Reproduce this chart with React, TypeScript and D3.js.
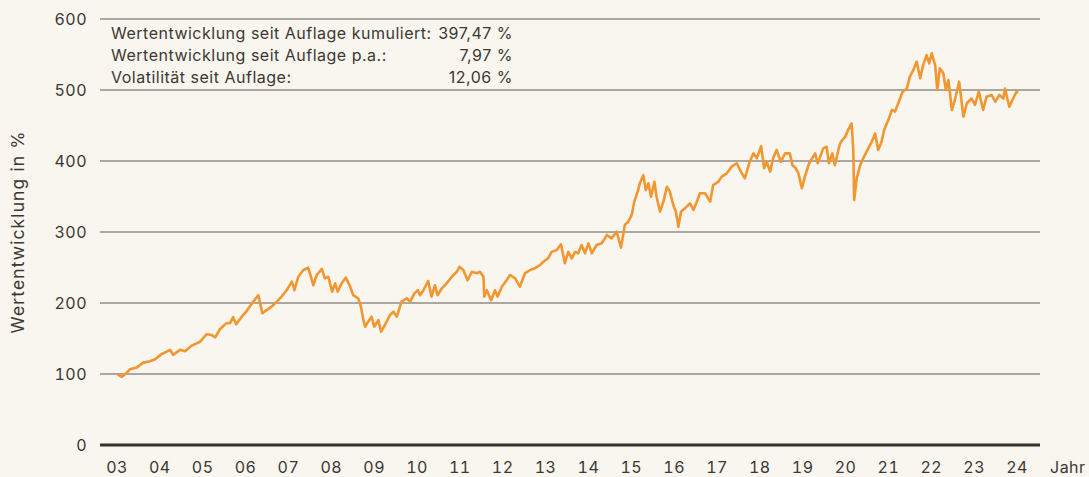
import React, { useEffect, useRef } from "react";
import * as d3 from "d3";

// decimal years
const years = [
  2003.0, 2003.11, 2003.19, 2003.3, 2003.46, 2003.61, 2003.77, 2003.89,
  2004.04, 2004.24, 2004.31, 2004.47, 2004.59, 2004.74, 2004.94,
  2005.09, 2005.21, 2005.29, 2005.4, 2005.54, 2005.64, 2005.71, 2005.78, 2005.91,
  2006.03, 2006.18, 2006.3, 2006.39, 2006.49, 2006.61, 2006.73, 2006.84, 2006.96,
  2007.08, 2007.14, 2007.23, 2007.35, 2007.46, 2007.5, 2007.58, 2007.66, 2007.78, 2007.85, 2007.93,
  2008.02, 2008.09, 2008.15, 2008.24, 2008.34, 2008.44, 2008.51, 2008.63, 2008.69, 2008.75, 2008.79, 2008.86, 2008.94,
  2009.0, 2009.1, 2009.16, 2009.25, 2009.37, 2009.45, 2009.53, 2009.64, 2009.76, 2009.84, 2009.94,
  2010.02, 2010.07, 2010.15, 2010.26, 2010.34, 2010.42, 2010.48, 2010.58, 2010.69, 2010.81, 2010.93, 2010.99,
  2011.08, 2011.18, 2011.28, 2011.39, 2011.47, 2011.55, 2011.57, 2011.63, 2011.73, 2011.82, 2011.88, 2011.98,
  2012.09, 2012.17, 2012.29, 2012.4, 2012.52, 2012.64, 2012.75, 2012.87, 2012.95,
  2013.06, 2013.14, 2013.26, 2013.36, 2013.45, 2013.53, 2013.61, 2013.69, 2013.76, 2013.84, 2013.92,
  2014.0, 2014.08, 2014.19, 2014.31, 2014.43, 2014.54, 2014.66, 2014.76, 2014.85, 2014.93,
  2015.01, 2015.07, 2015.15, 2015.2, 2015.28, 2015.34, 2015.4, 2015.46, 2015.54, 2015.59, 2015.67, 2015.75, 2015.83, 2015.9, 2015.98,
  2016.04, 2016.1, 2016.16, 2016.25, 2016.37, 2016.45, 2016.53, 2016.6, 2016.72, 2016.84, 2016.91,
  2017.03, 2017.11, 2017.23, 2017.34, 2017.46, 2017.54, 2017.65, 2017.75, 2017.85, 2017.93,
  2018.03, 2018.1, 2018.16, 2018.24, 2018.31, 2018.39, 2018.49, 2018.59, 2018.7, 2018.76, 2018.84, 2018.9, 2018.98,
  2019.05, 2019.15, 2019.29, 2019.35, 2019.48, 2019.56, 2019.61, 2019.69, 2019.75, 2019.85, 2019.89, 2019.99,
  2020.06, 2020.14, 2020.18, 2020.2, 2020.26, 2020.34, 2020.41, 2020.53, 2020.61, 2020.69, 2020.76, 2020.84, 2020.9,
  2021.0, 2021.08, 2021.15, 2021.23, 2021.33, 2021.43, 2021.5, 2021.58, 2021.66, 2021.74, 2021.81, 2021.89, 2021.95,
  2022.01, 2022.09, 2022.14, 2022.2, 2022.28, 2022.34, 2022.4, 2022.48, 2022.55, 2022.65, 2022.75, 2022.83, 2022.94,
  2023.02, 2023.11, 2023.21, 2023.29, 2023.41, 2023.49, 2023.59, 2023.68, 2023.72, 2023.82, 2023.91, 2023.99, 2024.03,
];

const values = [
  100, 96, 99.6, 106.6, 109, 116, 118, 120.7,
  128, 134, 127, 134, 132, 140, 145.5,
  156, 155, 151.6, 163, 171, 172, 180, 170, 180.7,
  189, 202, 211, 185.5, 190, 195, 202, 209, 218,
  230, 218, 237, 246.5, 249.7, 242, 225, 239.4, 248, 234.7, 237,
  216, 227.7, 216, 227.7, 235.7, 223, 211, 206.6, 195, 176, 166.6, 173.7, 180.7,
  166.6, 176, 159.6, 169, 183, 187.7, 180.7, 202, 206.6, 202, 213.6,
  218, 211, 218, 231, 209, 225, 211, 220.7, 227.7, 237, 244, 251,
  246.5, 232, 244, 242, 244, 237, 209, 218, 204, 218, 209, 223,
  232, 239.4, 234.7, 223, 242, 246.5, 248.8, 253.5, 258,
  263, 272, 274.6, 282.7, 256, 272, 263, 272, 270, 281.7, 270,
  284, 270, 281.7, 284, 295.8, 291, 300.4, 278, 310, 314.5,
  324, 342.7, 356.8, 368.5, 380, 359, 368.5, 349.7, 370.8, 349.7, 328.6, 342.7, 363.8, 356.8, 338,
  328.6, 307.5, 328.6, 333.3, 340.4, 331, 342.7, 354.5, 354.5, 342.7, 366,
  370.8, 378, 382.6, 392, 396.8, 387, 375.6, 396.8, 410.8, 403.8,
  421, 389.7, 399, 385, 403.8, 415.5, 399, 410.8, 410.8, 394, 389.7, 382.6, 361.5,
  378, 396.8, 410.8, 396.8, 417.8, 420, 396.8, 410.8, 394, 420, 427, 434,
  443.7, 453, 415.5, 345, 375.6, 394, 403.8, 417.8, 427, 438.7, 415.5, 427, 443.7,
  458, 472, 469.5, 481.3, 497.6, 502, 518.8, 528, 540, 516.5, 535, 549, 537.6,
  551.7, 535, 500, 530.5, 523.5, 500, 514, 471.8, 486, 511.7, 462.4, 481.3, 488,
  479, 497.6, 471.8, 490.6, 493, 483.5, 493, 488, 502, 476.5, 488, 497.6, 497,
];

const yTicks = [0, 100, 200, 300, 400, 500, 600];
const xTickYears = [
  2003, 2004, 2005, 2006, 2007, 2008, 2009, 2010, 2011, 2012, 2013,
  2014, 2015, 2016, 2017, 2018, 2019, 2020, 2021, 2022, 2023, 2024,
];
const xTickLabels = [
  "03", "04", "05", "06", "07", "08", "09", "10", "11", "12", "13",
  "14", "15", "16", "17", "18", "19", "20", "21", "22", "23", "24",
];
const statLabels = [
  "Wertentwicklung seit Auflage kumuliert:",
  "Wertentwicklung seit Auflage p.a.:",
  "Volatilität seit Auflage:",
];
const statValues = ["397,47 %", "7,97 %", "12,06 %"];

export default function App() {
  const svgRef = useRef(null);

  useEffect(() => {
    const width = 1089;
    const height = 477;
    const font = "Inter, 'DejaVu Sans', sans-serif";
    const textColor = "#3b3834";

    document.body.style.margin = "0";
    document.body.style.background = "#f9f6ef";

    const svg = d3.select(svgRef.current).attr("width", width).attr("height", height);
    svg.selectAll("*").remove();

    svg.append("rect").attr("width", width).attr("height", height).attr("fill", "#f9f6ef");

    const xScale = d3.scaleLinear().domain([2003, 2024]).range([117, 1017]);
    const yScale = d3.scaleLinear().domain([0, 600]).range([445, 19]);

    // gridlines
    svg
      .append("g")
      .selectAll("line")
      .data(yTicks.filter((d) => d > 0))
      .enter()
      .append("line")
      .attr("x1", 100)
      .attr("x2", 1040)
      .attr("y1", (d) => yScale(d))
      .attr("y2", (d) => yScale(d))
      .attr("stroke", "#5c5852")
      .attr("stroke-width", 1);

    svg
      .append("line")
      .attr("x1", 100)
      .attr("x2", 1040)
      .attr("y1", yScale(0))
      .attr("y2", yScale(0))
      .attr("stroke", "#36322d")
      .attr("stroke-width", 3);

    const tickText = (sel) =>
      sel
        .attr("font-family", font)
        .attr("font-size", 16)
        .attr("letter-spacing", 0.5)
        .style("font-feature-settings", "'tnum'")
        .attr("fill", textColor);

    // y labels
    svg
      .append("g")
      .selectAll("text")
      .data(yTicks)
      .enter()
      .append("text")
      .attr("x", 87)
      .attr("y", (d) => yScale(d))
      .attr("dy", "0.36em")
      .attr("text-anchor", "end")
      .call(tickText)
      .text((d) => d);

    // x labels
    svg
      .append("g")
      .selectAll("text")
      .data(xTickYears)
      .enter()
      .append("text")
      .attr("x", (d) => xScale(d))
      .attr("y", 467)
      .attr("dy", "0.36em")
      .attr("text-anchor", "middle")
      .call(tickText)
      .text((d, i) => xTickLabels[i]);

    svg
      .append("text")
      .attr("x", 1050)
      .attr("y", 467)
      .attr("dy", "0.36em")
      .call(tickText)
      .text("Jahr");

    svg
      .append("text")
      .attr("transform", `translate(24, 232) rotate(-90)`)
      .attr("text-anchor", "middle")
      .attr("font-family", font)
      .attr("font-size", 17.5)
      .attr("letter-spacing", 1.1)
      .attr("fill", textColor)
      .text("Wertentwicklung in %");

    // stats box
    const stats = svg
      .append("g")
      .attr("font-family", font)
      .attr("font-size", 16)
      .attr("letter-spacing", 0.5)
      .attr("fill", textColor);
    statLabels.forEach((label, i) => {
      stats.append("text").attr("x", 111).attr("y", 39.3 + i * 21.7).text(label);
      stats
        .append("text")
        .attr("x", 513)
        .attr("y", 39.3 + i * 21.7)
        .attr("text-anchor", "end")
        .text(statValues[i]);
    });

    const line = d3
      .line<number>()
      .x((d, i) => xScale(years[i]))
      .y((d) => yScale(d));

    svg
      .append("path")
      .datum(values)
      .attr("d", line)
      .attr("fill", "none")
      .attr("stroke", "#f29630")
      .attr("stroke-width", 2.6)
      .attr("stroke-linejoin", "round");
  }, []);

  return <svg ref={svgRef} style={{ display: "block" }}></svg>;
}
